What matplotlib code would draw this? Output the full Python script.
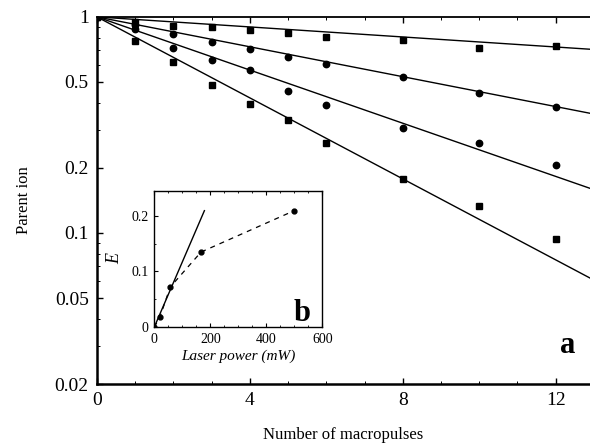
import matplotlib.pyplot as plt
import numpy as np
from matplotlib.ticker import MultipleLocator, FixedLocator, NullFormatter, LogLocator

plt.rcParams['font.family'] = ['Liberation Serif', 'DejaVu Serif']

# main panel: decay of parent ion vs number of macropulses
pulses = [0, 1, 2, 3, 4, 5, 6, 8, 10, 12]
ion_a = [1.0, 0.948, 0.908, 0.90, 0.87, 0.843, 0.805, 0.785, 0.72, 0.734]   # squares
ion_b = [1.0, 0.92, 0.837, 0.763, 0.709, 0.651, 0.604, 0.527, 0.445, 0.383]  # circles
ion_c = [1.0, 0.877, 0.719, 0.630, 0.570, 0.456, 0.391, 0.306, 0.260, 0.206]  # circles
ion_d = [1.0, 0.774, 0.621, 0.485, 0.397, 0.333, 0.262, 0.178, 0.133, 0.094]  # squares
decay_rates = [0.0267, 0.0796, 0.1416, 0.2157]

# inset: E vs laser power
power = [0, 20, 57, 167, 498]
E_vals = [0, 0.018, 0.072, 0.135, 0.209]
lin_slope = 0.00117
lin_end = 179

fig = plt.figure(figsize=(5.9, 4.45), dpi=100)
ax = fig.add_axes([0.1644, 0.137, 0.8356, 0.825])

xfit = np.linspace(0, 12.9, 100)
for k in decay_rates:
    ax.plot(xfit, np.exp(-k * xfit), color='black', lw=1.0)

ax.plot(pulses, ion_a, 's', color='black', ms=5.0)
ax.plot(pulses, ion_b, 'o', color='black', ms=4.6)
ax.plot(pulses, ion_c, 'o', color='black', ms=4.6)
ax.plot(pulses, ion_d, 's', color='black', ms=5.0)

ax.set_yscale('log')
ax.set_xlim(0, 12.9)
ax.set_ylim(0.02, 1)
yt = [0.02, 0.05, 0.1, 0.2, 0.5, 1]
ax.yaxis.set_major_locator(FixedLocator(yt))
ax.set_yticklabels(['0.02', '0.05', '0.1', '0.2', '0.5', '1'])
ax.yaxis.set_minor_locator(LogLocator(subs=np.arange(2, 10)))
ax.yaxis.set_minor_formatter(NullFormatter())
ax.xaxis.set_major_locator(MultipleLocator(4))
ax.xaxis.set_minor_locator(MultipleLocator(1))
ax.spines['right'].set_visible(False)
for s in ['left', 'bottom']:
    ax.spines[s].set_linewidth(1.8)
ax.spines['top'].set_linewidth(1.3)
ax.tick_params(which='both', direction='in', top=True, labelsize=14, pad=6)
ax.tick_params(which='major', length=4, width=1)
ax.tick_params(which='minor', length=2.5, width=0.7)
ax.set_xlabel('Number of macropulses', fontsize=12, labelpad=13)
ax.set_ylabel('Parent ion', fontsize=12, labelpad=16)
ax.text(0.955, 0.105, 'a', transform=ax.transAxes, fontsize=22,
        fontweight='bold', ha='center', va='center')

# inset
ins = fig.add_axes([0.2615, 0.265, 0.2847, 0.306])
ins.plot(power, E_vals, '--', color='black', lw=0.9, dashes=(4, 4))
ins.plot(power, E_vals, 'o', color='black', ms=3.5)
px = np.linspace(0, lin_end, 10)
ins.plot(px, lin_slope * px, color='black', lw=1.0)
ins.set_xlim(0, 600)
ins.set_ylim(0, 0.245)
ins.xaxis.set_major_locator(MultipleLocator(200))
ins.xaxis.set_minor_locator(MultipleLocator(50))
ins.yaxis.set_major_locator(MultipleLocator(0.1))
ins.yaxis.set_minor_locator(MultipleLocator(0.05))
ins.yaxis.set_major_formatter(plt.FuncFormatter(lambda v, p: '0' if abs(v) < 1e-9 else '%.1f' % v))
ins.tick_params(which='both', direction='in', top=True, labelsize=10, pad=4)
ins.tick_params(which='major', length=3, width=0.8)
ins.tick_params(which='minor', length=1.5, width=0.6)
for s in ins.spines.values():
    s.set_linewidth(1.0)
ins.set_xlabel('Laser power (mW)', fontsize=11, style='italic', labelpad=3)
ins.set_ylabel('E', fontsize=13, style='italic', labelpad=6)
ins.text(0.88, 0.1, 'b', transform=ins.transAxes, fontsize=22,
         fontweight='bold', ha='center', va='center')

fig.savefig('out.png', dpi=100)
